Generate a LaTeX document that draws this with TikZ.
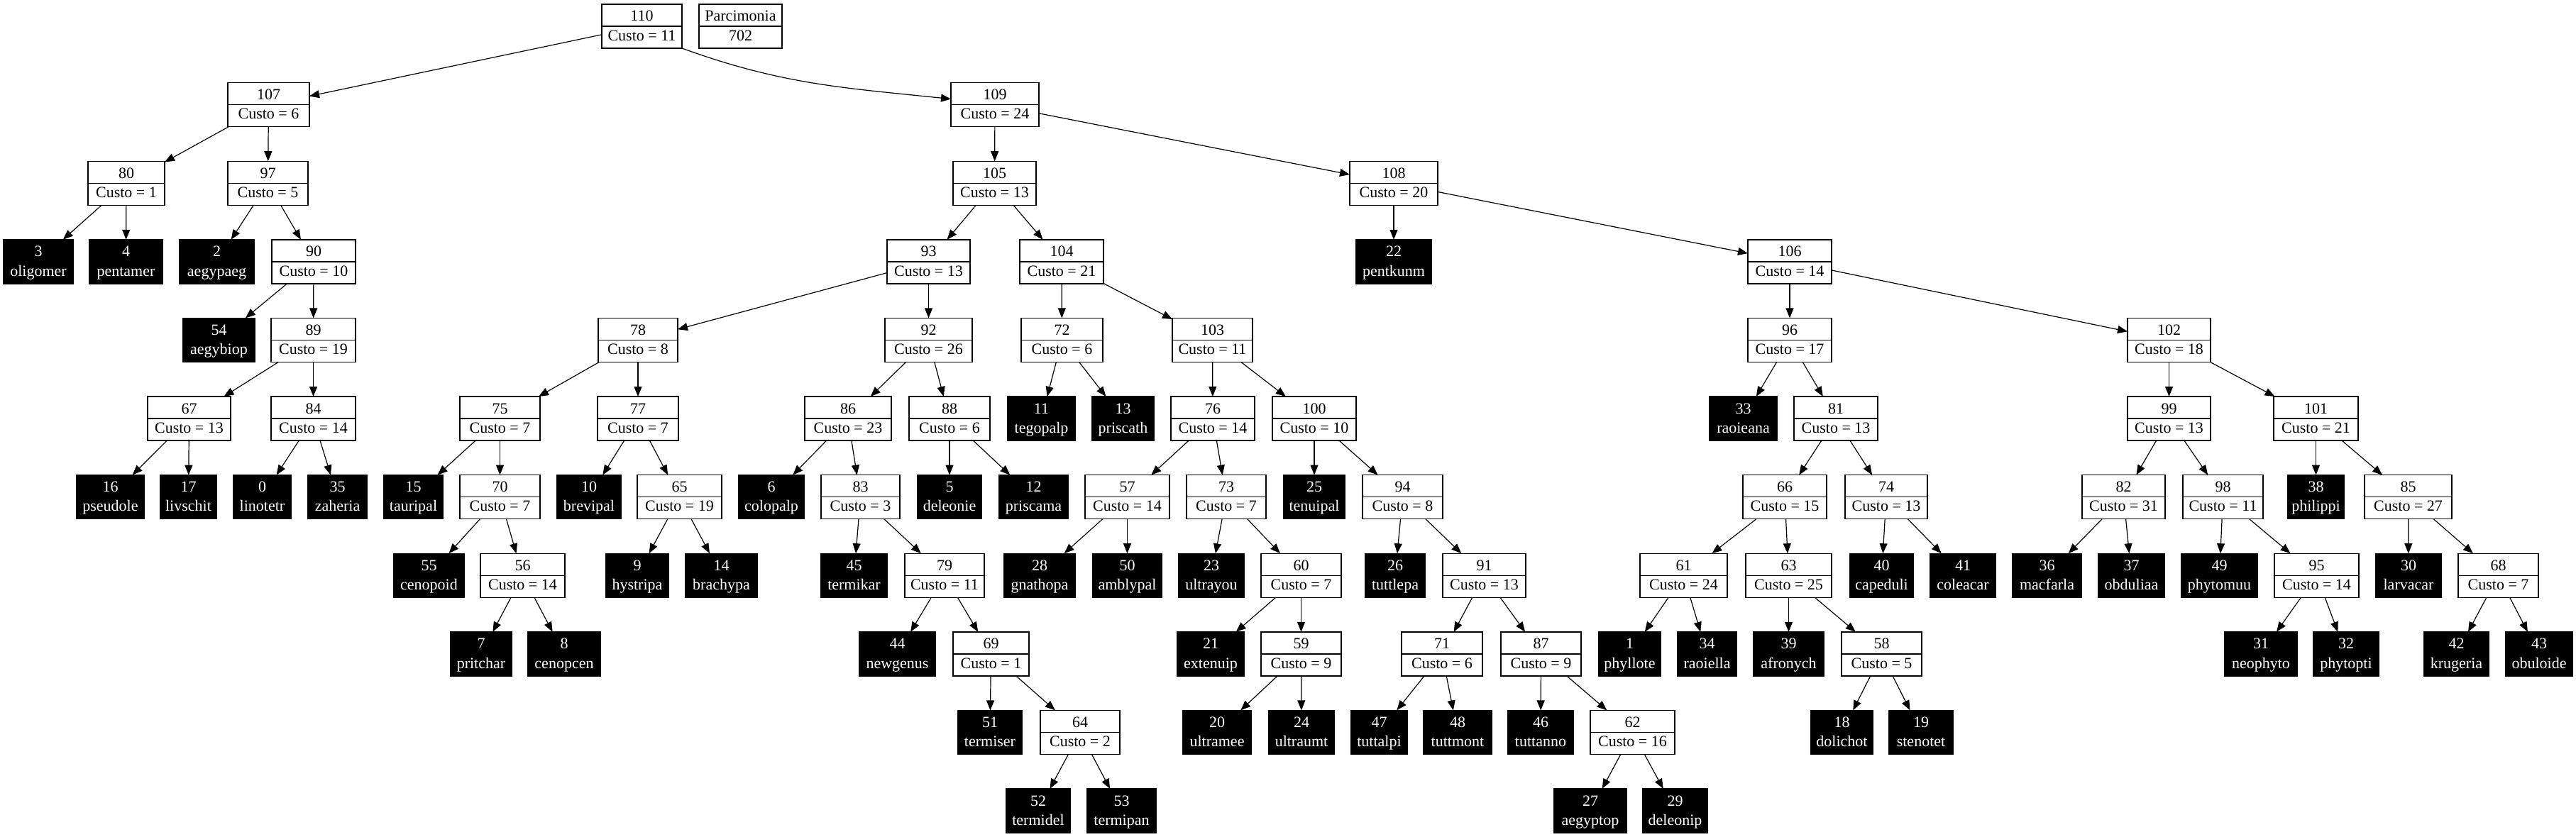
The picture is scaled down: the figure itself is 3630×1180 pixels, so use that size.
\documentclass[tikz,border=0pt]{standalone}
\usepackage{fontspec}
\setmainfont{Liberation Serif}
\usetikzlibrary{arrows.meta}
\tikzset{
  ibox/.style={draw=black, line width=1.4pt, fill=white, minimum height=62pt, inner sep=0pt, outer sep=0pt},
  lbox/.style={ibox, fill=black},
  divline/.style={draw=black, line width=1.4pt},
  itext/.style={inner sep=0pt, anchor=base, font=\fontsize{22}{26}\selectfont},
  ltext/.style={itext, text=white},
  edge/.style={draw=black, line width=1.2pt, -{Triangle[length=14pt,width=11pt]}},
}
% internal node: name, x, level, width, number, cost
\newcommand{\mkin}[6]{%
  \node[ibox, minimum width=#4pt] (#1) at (#2,-37-110.6*#3) {};
  \draw[divline] (#1.west) -- (#1.east);
  \node[itext] (#1a) at (#2,-30-110.6*#3) {#5};
  \node[itext] (#1b) at (#2,-57.2-110.6*#3) {Custo = #6};}
% leaf: name, x, level, width, number, label
\newcommand{\mklf}[6]{%
  \node[lbox, minimum width=#4pt] (#1) at (#2,-37-110.6*#3) {};
  \node[ltext] (#1a) at (#2,-30-110.6*#3) {#5};
  \node[ltext] (#1b) at (#2,-57.2-110.6*#3) {#6};}
\begin{document}
\begin{tikzpicture}[x=1pt,y=1pt]
\useasboundingbox (0,0) rectangle (3630,-1180);
\fill[white] (0,0) rectangle (3630,-1180);

% level 0
\mkin{n110}{904.5}{0}{113}{110}{11}
\node[ibox, minimum width=117pt] (parc) at (1043.5,-37) {};
\draw[divline] (parc.west) -- (parc.east);
\node[itext] (parca) at (1043.5,-30) {Parcimonia};
\node[itext] (parcb) at (1043.5,-57.2) {702};
% level 1
\mkin{n107}{378.5}{1}{115}{107}{6}
\mkin{n109}{1402}{1}{124}{109}{24}
% level 2
\mkin{n80}{178}{2}{108}{80}{1}
\mkin{n97}{377.5}{2}{113}{97}{5}
\mkin{n105}{1401.5}{2}{117}{105}{13}
\mkin{n108}{1964}{2}{124}{108}{20}
% level 3
\mkin{n90}{442}{3}{118}{90}{10}
\mkin{n93}{1308.5}{3}{117}{93}{13}
\mkin{n104}{1496}{3}{118}{104}{21}
\mkin{n106}{2522}{3}{118}{106}{14}
% level 4
\mkin{n89}{441.5}{4}{119}{89}{19}
\mkin{n78}{899}{4}{112}{78}{8}
\mkin{n92}{1308.5}{4}{123}{92}{26}
\mkin{n72}{1496.5}{4}{115}{72}{6}
\mkin{n103}{1708.5}{4}{113}{103}{11}
\mkin{n96}{2522}{4}{118}{96}{17}
\mkin{n102}{3056.5}{4}{117}{102}{18}
% level 5
\mkin{n67}{266.5}{5}{117}{67}{13}
\mkin{n84}{441.5}{5}{119}{84}{14}
\mkin{n75}{704.5}{5}{113}{75}{7}
\mkin{n77}{899}{5}{114}{77}{7}
\mkin{n86}{1195}{5}{122}{86}{23}
\mkin{n88}{1338}{5}{114}{88}{6}
\mkin{n76}{1709}{5}{118}{76}{14}
\mkin{n100}{1852}{5}{118}{100}{10}
\mkin{n81}{2587}{5}{118}{81}{13}
\mkin{n99}{3056.5}{5}{117}{99}{13}
\mkin{n101}{3263.5}{5}{119}{101}{21}
% level 6
\mkin{n70}{704.5}{6}{113}{70}{7}
\mkin{n65}{957.5}{6}{119}{65}{19}
\mkin{n83}{1212.5}{6}{111}{83}{3}
\mkin{n57}{1588.5}{6}{119}{57}{14}
\mkin{n73}{1728}{6}{112}{73}{7}
\mkin{n94}{1976.5}{6}{113}{94}{8}
\mkin{n66}{2515}{6}{118}{66}{15}
\mkin{n74}{2658}{6}{116}{74}{13}
\mkin{n82}{2992.5}{6}{117}{82}{31}
\mkin{n98}{3132.5}{6}{113}{98}{11}
\mkin{n85}{3393.5}{6}{123}{85}{27}
% level 7
\mkin{n56}{736.5}{7}{119}{56}{14}
\mkin{n79}{1331}{7}{112}{79}{11}
\mkin{n60}{1833.5}{7}{113}{60}{7}
\mkin{n91}{2091.5}{7}{117}{91}{13}
\mkin{n61}{2372.5}{7}{123}{61}{24}
\mkin{n63}{2520.5}{7}{121}{63}{25}
\mkin{n95}{3264.5}{7}{119}{95}{14}
\mkin{n68}{3520.5}{7}{113}{68}{7}
% level 8
\mkin{n69}{1396.5}{8}{107}{69}{1}
\mkin{n59}{1833.5}{8}{113}{59}{9}
\mkin{n71}{2032}{8}{114}{71}{6}
\mkin{n87}{2171.5}{8}{113}{87}{9}
\mkin{n58}{2651.5}{8}{113}{58}{5}
% level 9
\mkin{n64}{1522}{9}{112}{64}{2}
\mkin{n62}{2300.5}{9}{119}{62}{16}

% leaves
\mklf{l3}{54}{3}{98}{3}{oligomer}
\mklf{l4}{177.5}{3}{103}{4}{pentamer}
\mklf{l2}{305.5}{3}{105}{2}{aegypaeg}
\mklf{l22}{1964}{3}{106}{22}{pentkunm}
\mklf{l54}{308.5}{4}{101}{54}{aegybiop}
\mklf{l11}{1467.5}{5}{95}{11}{tegopalp}
\mklf{l13}{1582.5}{5}{87}{13}{priscath}
\mklf{l33}{2456.5}{5}{95}{33}{raoieana}
\mklf{l16}{155.5}{6}{95}{16}{pseudole}
\mklf{l17}{265.5}{6}{79}{17}{livschit}
\mklf{l0}{369.5}{6}{81}{0}{linotetr}
\mklf{l35}{475.5}{6}{83}{35}{zaheria}
\mklf{l15}{582.5}{6}{83}{15}{tauripal}
\mklf{l10}{830}{6}{90}{10}{brevipal}
\mklf{l6}{1087}{6}{92}{6}{colopalp}
\mklf{l5}{1338}{6}{90}{5}{deleonie}
\mklf{l12}{1456.5}{6}{97}{12}{priscama}
\mklf{l25}{1852}{6}{86}{25}{tenuipal}
\mklf{l38}{3263.5}{6}{79}{38}{philippi}
\mklf{l55}{604.5}{7}{99}{55}{cenopoid}
\mklf{l9}{898}{7}{88}{9}{hystripa}
\mklf{l14}{1016.5}{7}{101}{14}{brachypa}
\mklf{l45}{1203.5}{7}{93}{45}{termikar}
\mklf{l28}{1465}{7}{100}{28}{gnathopa}
\mklf{l50}{1588.5}{7}{97}{50}{amblypal}
\mklf{l23}{1707}{7}{92}{23}{ultrayou}
\mklf{l26}{1966}{7}{84}{26}{tuttlepa}
\mklf{l40}{2651.5}{7}{89}{40}{capeduli}
\mklf{l41}{2766}{7}{92}{41}{coleacar}
\mklf{l36}{2884.5}{7}{97}{36}{macfarla}
\mklf{l37}{3003.5}{7}{93}{37}{obduliaa}
\mklf{l49}{3127.5}{7}{107}{49}{phytomuu}
\mklf{l30}{3394}{7}{92}{30}{larvacar}
\mklf{l7}{678}{8}{86}{7}{pritchar}
\mklf{l8}{795}{8}{102}{8}{cenopcen}
\mklf{l44}{1264.5}{8}{107}{44}{newgenus}
\mklf{l21}{1706}{8}{94}{21}{extenuip}
\mklf{l1}{2296.5}{8}{87}{1}{phyllote}
\mklf{l34}{2405.5}{8}{83}{34}{raoiella}
\mklf{l39}{2520.5}{8}{99}{39}{afronych}
\mklf{l31}{3186}{8}{102}{31}{neophyto}
\mklf{l32}{3306}{8}{92}{32}{phytopti}
\mklf{l42}{3461.5}{8}{91}{42}{krugeria}
\mklf{l43}{3578}{8}{94}{43}{obuloide}
\mklf{l51}{1395}{9}{90}{51}{termiser}
\mklf{l20}{1715}{9}{96}{20}{ultramee}
\mklf{l24}{1834}{9}{92}{24}{ultraumt}
\mklf{l47}{1943.5}{9}{79}{47}{tuttalpi}
\mklf{l48}{2054}{9}{96}{48}{tuttmont}
\mklf{l46}{2171}{9}{92}{46}{tuttanno}
\mklf{l18}{2595.5}{9}{87}{18}{dolichot}
\mklf{l19}{2707}{9}{90}{19}{stenotet}
\mklf{l52}{1463}{10}{90}{52}{termidel}
\mklf{l53}{1580.5}{10}{97}{53}{termipan}
\mklf{l27}{2241}{10}{102}{27}{aegyptop}
\mklf{l29}{2360.5}{10}{91}{29}{deleonip}

% connectors
\draw[edge] (n110.south east) to[out=-20,in=174] ([yshift=8pt]n109.west);
\foreach \a/\b in {n110/n107, n107/n80, n107/n97, n80/l3, n80/l4, n97/l2, n97/n90,
  n90/l54, n90/n89, n89/n67, n89/n84, n67/l16, n67/l17, n84/l0, n84/l35,
  n109/n105, n109/n108, n105/n93, n105/n104, n93/n78, n93/n92,
  n78/n75, n78/n77, n75/l15, n75/n70, n70/l55, n70/n56, n56/l7, n56/l8,
  n77/l10, n77/n65, n65/l9, n65/l14,
  n92/n86, n92/n88, n86/l6, n86/n83, n83/l45, n83/n79, n79/l44, n79/n69,
  n69/l51, n69/n64, n64/l52, n64/l53, n88/l5, n88/l12,
  n104/n72, n104/n103, n72/l11, n72/l13, n103/n76, n103/n100,
  n76/n57, n76/n73, n57/l28, n57/l50, n73/l23, n73/n60, n60/l21, n60/n59,
  n59/l20, n59/l24, n100/l25, n100/n94, n94/l26, n94/n91, n91/n71, n91/n87,
  n71/l47, n71/l48, n87/l46, n87/n62, n62/l27, n62/l29,
  n108/l22, n108/n106, n106/n96, n106/n102, n96/l33, n96/n81,
  n81/n66, n81/n74, n66/n61, n66/n63, n61/l1, n61/l34, n63/l39, n63/n58,
  n58/l18, n58/l19, n74/l40, n74/l41,
  n102/n99, n102/n101, n99/n82, n99/n98, n82/l36, n82/l37, n98/l49, n98/n95,
  n95/l31, n95/l32, n101/l38, n101/n85, n85/l30, n85/n68, n68/l42, n68/l43}
  {\draw[edge] (\a) -- (\b);}
\end{tikzpicture}
\end{document}
